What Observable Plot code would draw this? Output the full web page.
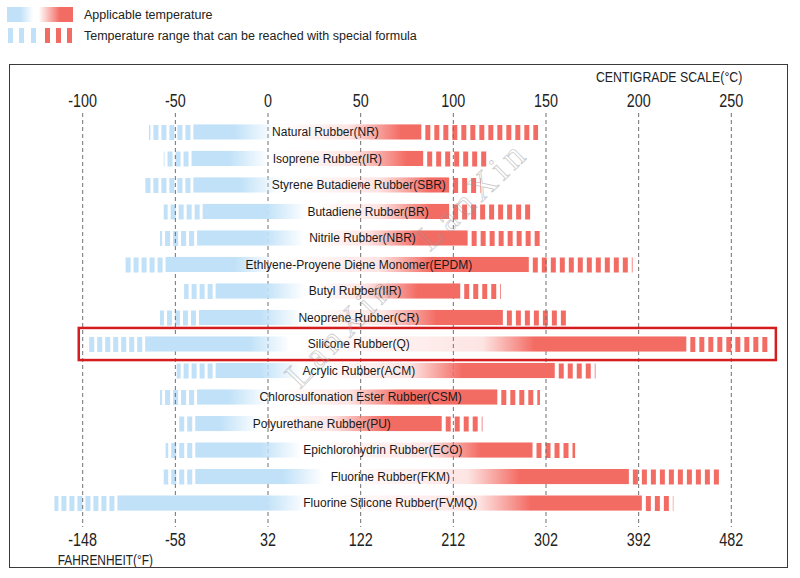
<!DOCTYPE html>
<html><head><meta charset="utf-8">
<script src="https://cdn.jsdelivr.net/npm/d3@7"></script>
<script src="https://cdn.jsdelivr.net/npm/@observablehq/plot@0.6"></script>
<style>
body{margin:0;background:#fff;font-family:"Liberation Sans",Arial,sans-serif;}
#page{position:relative;width:800px;height:578px;overflow:hidden;background:#fff;}
#legend{position:absolute;left:0;top:0;width:800px;height:60px;}
#chart{position:absolute;left:9px;top:64px;}
#frame{position:absolute;left:9px;top:64px;width:779px;height:504px;border:1.5px solid #3a3a3a;box-sizing:border-box;pointer-events:none;}
.wm{position:absolute;font-family:"Liberation Serif","DejaVu Serif",serif;font-size:36px;letter-spacing:5px;color:transparent;-webkit-text-stroke:0.8px rgba(150,150,150,0.5);transform-origin:center center;white-space:nowrap;pointer-events:none;}
</style></head><body>
<div id="page">
  <svg id="legend" width="800" height="60"></svg>
  <div id="chart"></div>
  <div id="frame"></div>
  <div class="wm" style="left:402px;top:174px;transform:rotate(-44deg);">LanXin</div>
  <div class="wm" style="left:270px;top:310px;transform:rotate(-46deg);">LanXin</div>
</div>
<script>
const rubbers = [
  "Natural Rubber(NR)", "Isoprene Rubber(IR)", "Styrene Butadiene Rubber(SBR)",
  "Butadiene Rubber(BR)", "Nitrile Rubber(NBR)", "Ethlyene-Proyene Diene Monomer(EPDM)",
  "Butyl Rubber(IIR)", "Neoprene Rubber(CR)", "Silicone Rubber(Q)", "Acrylic Rubber(ACM)",
  "Chlorosulfonation Ester Rubber(CSM)", "Polyurethane Rubber(PU)", "Epichlorohydrin Rubber(ECO)",
  "Fluorine Rubber(FKM)", "Fluorine Silicone Rubber(FVMQ)"
];
// °C values
const specialLow     = [-64, -56, -66, -56, -58, -77, -45, -58, -97, -49, -58, -49, -55, -56, -115];
const applicableLow  = [-40, -41, -40, -35, -38, -55, -28, -37, -66, -28, -38, -39, -39, -39, -81];
const applicableHigh = [83, 84, 98, 98, 108, 141, 104, 127, 226, 155, 124, 94, 143, 195, 202];
const specialHigh    = [146, 118, 115, 143, 148, 197, 126, 161, 270, 177, 147, 116, 166, 245, 219];
const blueFadeTo     = [4, 1, 7, 21, 20, 4, 20, 18, 12, 18, 1, -4, 18, 30, 21];
const redFullFrom    = [72, 75, 88, 88, 82, 88, 81, 91, 144, 105, 72, 63, 115, 136, 142];
const labelAt        = [31, 32, 49, 54, 51, 49, 47, 49, 49, 49, 50, 29, 62, 66, 66];
const celsiusTicks   = [-100, -50, 0, 50, 100, 150, 200, 250];
const highlighted    = ["Silicone Rubber(Q)"];
const legendItems    = ["Applicable temperature", "Temperature range that can be reached with special formula"];

const BLUE = "#c0e1f8", RED = "#f36c64";
const SANS = "'Liberation Sans',Arial,sans-serif";

const rows = rubbers.map((name, i) => ({
  name, i, sl: specialLow[i], lo: applicableLow[i], hi: applicableHigh[i], sh: specialHigh[i],
  fade: blueFadeTo[i], full: redFullFrom[i], lab: labelAt[i]
}));

const barH = 15;
const chart = Plot.plot({
  width: 779, height: 504,
  marginLeft: 73.2, marginRight: 57.2, marginTop: 49, marginBottom: 46,
  x: {domain: [-100, 250]},
  y: {domain: rubbers, padding: 0.43, round: false, axis: null},
  color: {type: "identity"},
  style: {fontFamily: SANS, color: "#222", background: "transparent", overflow: "visible"},
  marks: [
    Plot.ruleY(rows, {y: "name", x1: "lo", x2: "sl", stroke: BLUE, strokeWidth: barH, strokeDasharray: "0 3 5 0"}),
    Plot.ruleY(rows, {y: "name", x1: "hi", x2: "sh", stroke: RED, strokeWidth: barH, strokeDasharray: "0 4 5 0"}),
    Plot.ruleX(celsiusTicks, {stroke: "#707070", strokeWidth: 1, strokeDasharray: "4 3", insetBottom: -5}),
    Plot.barX(rows, {y: "name", x1: "lo", x2: "hi", fill: d => `url(#grad${d.i})`}),
    Plot.text(rows, {y: "name", x: "lab", text: "name", fontSize: 12, fill: "#1a1a1a"}),
    Plot.barX(rows.filter(d => highlighted.includes(d.name)), {
      y: "name", x1: "sl", x2: "sh", fill: "none", stroke: "#d51d1d", strokeWidth: 2.5,
      insetLeft: -9, insetRight: -8, insetTop: -8.5, insetBottom: -8.5
    }),
    Plot.axisX(celsiusTicks, {anchor: "top", tickSize: 0, tickPadding: 7, tickFormat: d => String(d), fontSize: 17.5, label: null}),
    Plot.axisX(celsiusTicks, {anchor: "bottom", tickSize: 0, tickPadding: 11, tickFormat: d => String(d * 9 / 5 + 32), fontSize: 17.5, label: null}),
    Plot.text(["CENTIGRADE SCALE(°C)"], {text: d => d, frameAnchor: "top-right", dx: 11, dy: -42, textAnchor: "end", fontSize: 15, fill: "#222"}),
    Plot.text(["FAHRENHEIT(°F)"], {text: d => d, frameAnchor: "bottom-left", dx: -25, dy: 42, textAnchor: "start", fontSize: 14.5, fill: "#222"})
  ]
});

// gradients for the applicable-range bars
const defs = d3.select(chart).insert("defs", ":first-child");
rows.forEach(d => {
  const frac = v => Math.max(0, Math.min(1, (v - d.lo) / (d.hi - d.lo)));
  const stops = [
    [0, BLUE, 1],
    [frac(d.fade - 22), BLUE, 1],
    [frac(d.fade), BLUE, 0],
    [frac(d.fade + 4), RED, 0],
    [Math.max(frac(d.fade + 4), frac(d.full - 28)), RED, 0.18],
    [frac(d.full), RED, 1],
    [1, RED, 1]
  ];
  const g = defs.append("linearGradient").attr("id", `grad${d.i}`).attr("x1", 0).attr("x2", 1).attr("y1", 0).attr("y2", 0);
  stops.forEach(([o, c, op]) => g.append("stop").attr("offset", o).attr("stop-color", c).attr("stop-opacity", op));
});
document.getElementById("chart").appendChild(chart);

// narrow (condensed) look for the scale texts, as in the reference
d3.select(chart).selectAll("text")
  .filter(function () { return !rubbers.includes(this.textContent); })
  .each(function () {
    let w = 0;
    try { w = this.getComputedTextLength(); } catch (e) { w = 0; }
    if (!w) { try { w = this.getBBox().width; } catch (e) { w = 0; } }
    if (w > 0) {
      this.setAttribute("textLength", (w * 0.82).toFixed(2));
      this.setAttribute("lengthAdjust", "spacingAndGlyphs");
    }
  });

// legend
const lg = d3.select("#legend");
const ldefs = lg.append("defs");
const lgGrad = ldefs.append("linearGradient").attr("id", "lgrad");
[[0, BLUE, 1], [0.2, BLUE, 1], [0.4, BLUE, 0], [0.48, RED, 0], [0.8, RED, 1], [1, RED, 1]]
  .forEach(([o, c, op]) => lgGrad.append("stop").attr("offset", o).attr("stop-color", c).attr("stop-opacity", op));
lg.append("rect").attr("x", 7).attr("y", 7).attr("width", 66).attr("height", 15).attr("fill", "url(#lgrad)");
[8, 19, 31].forEach(x => lg.append("rect").attr("x", x).attr("y", 28).attr("width", 5).attr("height", 15).attr("fill", BLUE));
[45, 56, 67].forEach(x => lg.append("rect").attr("x", x).attr("y", 28).attr("width", 5).attr("height", 15).attr("fill", RED));
legendItems.forEach((t, k) => lg.append("text").attr("x", 84).attr("y", 15 + k * 21).attr("dy", "0.35em")
  .attr("font-size", 12.5).attr("fill", "#222").attr("font-family", SANS).text(t));
</script>
</body></html>
